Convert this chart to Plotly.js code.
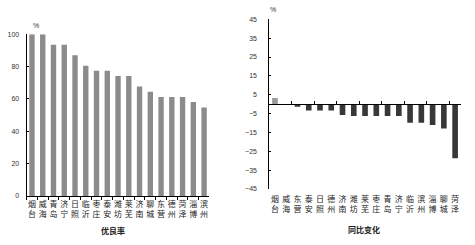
<!DOCTYPE html>
<html>
<head>
<meta charset="utf-8">
<script src="https://cdn.plot.ly/plotly-3.0.1.min.js"></script>
<style>
  html, body { margin: 0; padding: 0; background: #fff; }
  #chart { width: 475px; height: 245px; }
</style>
</head>
<body>
<div id="chart"></div>
<script>
// 优良率（%）
const rateCities = ['烟台', '威海', '青岛', '济宁', '日照', '临沂', '枣庄', '泰安', '潍坊',
                    '莱芜', '济南', '聊城', '东营', '德州', '菏泽', '淄博', '滨州'];
const rateValues = [100, 100, 93.5, 93.5, 87.1, 80.6, 77.4, 77.4, 74.2,
                    74.2, 67.7, 64.5, 61.3, 61.3, 61.3, 58.1, 54.8];

// 同比变化（百分点）
const changeCities = ['烟台', '威海', '东营', '泰安', '日照', '德州', '济南', '潍坊', '莱芜',
                      '枣庄', '青岛', '济宁', '临沂', '滨州', '淄博', '聊城', '菏泽'];
const changeValues = [3.2, 0, -1.4, -3.4, -3.4, -3.4, -5.8, -6.3, -6.3,
                      -6.3, -6.3, -6.3, -9.9, -9.9, -11.1, -12.9, -28.7];

// Stack the two characters of each city name vertically
const stacked = names => names.map(n => n.split('').join('<br>'));

const cjk = '"Noto Sans CJK SC", "Noto Sans", sans-serif';
const num = '"Liberation Sans", Arial, sans-serif';

const changeColors = changeValues.map(v => v > 0 ? '#9a9a9a' : '#383838');

const traces = [
  {
    type: 'bar', x: rateCities, y: rateValues,
    xaxis: 'x', yaxis: 'y',
    marker: { color: '#8b8b8b' },
    hoverinfo: 'x+y'
  },
  {
    type: 'bar', x: changeCities, y: changeValues,
    xaxis: 'x2', yaxis: 'y2',
    marker: { color: changeColors },
    hoverinfo: 'x+y'
  },
  // carries the baseline axis drawn through zero
  {
    type: 'scatter', mode: 'markers', x: changeCities, y: changeCities.map(() => 0),
    xaxis: 'x3', yaxis: 'y2',
    marker: { opacity: 0 }, hoverinfo: 'skip'
  }
];

const rightBottom = 0.229, rightTop = 0.921;

const layout = {
  width: 475, height: 245,
  margin: { l: 0, r: 0, t: 0, b: 0 },
  paper_bgcolor: '#fff', plot_bgcolor: '#fff',
  showlegend: false,
  bargap: 0.5,
  font: { family: num, size: 7, color: '#333' },
  xaxis: {
    domain: [0.056, 0.441], anchor: 'y',
    type: 'category', range: [-0.5, 16.5],
    tickmode: 'array', tickvals: rateCities, ticktext: stacked(rateCities),
    tickangle: 0,
    tickfont: { family: cjk, size: 8, color: '#222' },
    showline: true, linecolor: '#000', linewidth: 1,
    ticks: 'outside', tickson: 'boundaries', ticklen: 3, tickcolor: '#000',
    showgrid: false, fixedrange: true
  },
  yaxis: {
    domain: [0.2, 0.86], anchor: 'x',
    range: [0, 100], dtick: 20,
    showline: true, linecolor: '#000', linewidth: 1,
    ticks: 'inside', ticklen: 2, tickcolor: '#000',
    ticklabelstandoff: 5,
    showgrid: false, zeroline: false, fixedrange: true
  },
  xaxis2: {
    domain: [0.567, 0.970], anchor: 'y2',
    type: 'category', range: [-0.5, 16.5],
    tickmode: 'array', tickvals: changeCities, ticktext: stacked(changeCities),
    tickangle: 0,
    tickfont: { family: cjk, size: 8, color: '#222' },
    showline: false, ticks: '', ticklabelstandoff: 4,
    showgrid: false, fixedrange: true
  },
  xaxis3: {
    overlaying: 'x2', anchor: 'free',
    position: rightBottom + (rightTop - rightBottom) * 0.5,
    type: 'category', range: [-0.5, 16.5],
    showline: true, linecolor: '#000', linewidth: 1,
    ticks: 'inside', tickson: 'boundaries', ticklen: 3, tickcolor: '#000',
    showticklabels: false, showgrid: false, fixedrange: true
  },
  yaxis2: {
    domain: [rightBottom, rightTop], anchor: 'x2',
    range: [-45, 45], tickmode: 'array',
    tickvals: [-45, -35, -25, -15, -5, 5, 15, 25, 35, 45],
    showline: true, linecolor: '#000', linewidth: 1,
    ticks: 'inside', ticklen: 2, tickcolor: '#000',
    ticklabelstandoff: 10,
    showgrid: false, zeroline: false, fixedrange: true
  },
  annotations: [
    { text: '%', xref: 'paper', yref: 'paper', x: 35.5 / 475, y: 1 - 25.5 / 245,
      xanchor: 'center', yanchor: 'middle', showarrow: false,
      font: { family: num, size: 7, color: '#333' } },
    { text: '%', xref: 'paper', yref: 'paper', x: 273 / 475, y: 1 - 9 / 245,
      xanchor: 'center', yanchor: 'middle', showarrow: false,
      font: { family: num, size: 7, color: '#333' } },
    { text: '<b>优良率</b>', xref: 'paper', yref: 'paper', x: 113 / 475, y: 1 - 230.5 / 245,
      xanchor: 'center', yanchor: 'middle', showarrow: false,
      font: { family: cjk, size: 8, color: '#222' } },
    { text: '<b>同比变化</b>', xref: 'paper', yref: 'paper', x: 364 / 475, y: 1 - 229 / 245,
      xanchor: 'center', yanchor: 'middle', showarrow: false,
      font: { family: cjk, size: 8, color: '#222' } }
  ]
};

Plotly.newPlot('chart', traces, layout, { displayModeBar: false, staticPlot: true });
</script>
</body>
</html>
